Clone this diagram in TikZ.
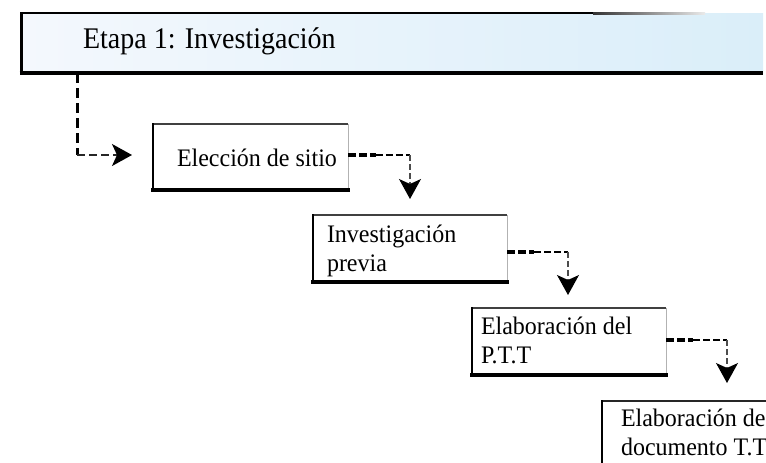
\documentclass[tikz,border=0pt]{standalone}
\usepackage{fontspec}
\setmainfont{Liberation Serif}
\usetikzlibrary{arrows.meta,calc}
\definecolor{hdleft}{HTML}{F4F8FD}
\definecolor{hdright}{HTML}{DAEEF9}
\newcommand{\tallt}[1]{\scalebox{1}[1.05]{#1}}
\tikzset{
  area/.style={draw=none,inner sep=0pt,outer sep=0pt,anchor=north west},
  lbl/.style={inner sep=0pt,outer sep=0pt,anchor=base west,font=\fontsize{24}{29}\selectfont},
  hlbl/.style={inner sep=0pt,outer sep=0pt,anchor=base west,font=\fontsize{28}{34}\selectfont},
  topedge/.style={draw=black!75,line width=1.3pt},
  rightedge/.style={draw=black!30,line width=0.9pt},
  leftedge/.style={draw=black,line width=2.6pt,line cap=rect},
  bottomedge/.style={draw=black,line width=3.4pt,line cap=rect},
  dashA/.style={draw=black,line width=3.4pt,dash pattern=on 8pt off 3pt},
  dashB/.style={draw=black,line width=2pt,dash pattern=on 7pt off 3pt},
  dashV/.style={draw=black!70,line width=1.1pt,dash pattern=on 6pt off 3pt},
  dashH/.style={draw=black,line width=3pt,dash pattern=on 10pt off 5pt},
  dashHh/.style={draw=black!85,line width=1.6pt,dash pattern=on 8pt off 4pt},
  tip/.style={-{Stealth[length=20pt,width=22pt,inset=5pt,color=black]}}
}
\begin{document}
\begin{tikzpicture}[x=1pt,y=-1pt]
\useasboundingbox (0,0) rectangle (766,463);
\clip (0,0) rectangle (766,463);
% header
\node[area,minimum width=742pt,minimum height=60pt] (h) at (21,13) {};
\shade[left color=hdleft,right color=hdright] (h.north west) rectangle (h.south east);
\draw[black,line width=2.4pt] (h.north west) -- (593,13);
\shade[left color=black!80,right color=black!8] (593,12) rectangle (705,14);
\draw[leftedge,line width=3pt] (h.north west) -- (h.south west);
\draw[bottomedge,line width=4pt,line cap=butt] ([xshift=-1.5pt]h.south west) -- (h.south east);
\node[hlbl] (ht) at (83,48.5) {\scalebox{1}[1.07]{Etapa 1: Investigación}};
% boxes
\node[area,minimum width=195pt,minimum height=66pt] (b1) at (153,124) {};
\node[area,minimum width=194pt,minimum height=67pt] (b2) at (313,215) {};
\node[area,minimum width=194pt,minimum height=67pt] (b3) at (472,308) {};
\node[area,minimum width=194pt,minimum height=67pt] (b4) at (602,401) {};
\foreach \n in {b1,b2,b3}{
  \draw[topedge] (\n.north west) -- (\n.north east);
  \draw[rightedge] (\n.north east) -- (\n.south east);
  \draw[leftedge] (\n.north west) -- (\n.south west);
  \draw[bottomedge] (\n.south west) -- (\n.south east);
}
\draw[topedge,line width=1.6pt,draw=black!85] (b4.north west) -- (b4.north east);
\draw[leftedge] (b4.north west) -- (b4.south west);
% texts
\node[lbl] (l1) at (177,166.5) {\tallt{Elección de sitio}};
\node[lbl] (l2a) at (327,242) {\tallt{Investigación}};
\node[lbl] (l2b) at (327,271) {\tallt{previa}};
\node[lbl] (l3a) at (481,334) {\tallt{Elaboración del}};
\node[lbl] (l3b) at (481,363) {\tallt{P.T.T}};
\node[lbl] (l4a) at (621,426) {\tallt{Elaboración del}};
\node[lbl] (l4b) at (621,455) {\tallt{documento T.T.T}};
% connector from header
\coordinate (hd) at ([xshift=56pt]h.south west);
\coordinate (hc) at (hd |- 0,155);
\coordinate (ha) at (132,155);
\draw[dashH] (hd) -- (hc);
\draw[dashHh,tip] (hc) -- (ha);
% connectors between boxes
\coordinate (s1) at (348,155);
\coordinate (c1) at (410,155);
\coordinate (e1) at (410,199);
\coordinate (s2) at (507,252);
\coordinate (c2) at (568,252);
\coordinate (e2) at (568,295);
\coordinate (s3) at (666,340);
\coordinate (c3) at (727,340);
\coordinate (e3) at (727,383);
\foreach \i in {1,2,3}{
  \draw[dashA] (s\i) -- ($(s\i)!0.45!(c\i)$);
  \draw[dashB] ($(s\i)!0.45!(c\i)$) -- (c\i);
  \draw[dashV,tip] (c\i) -- (e\i);
}
\end{tikzpicture}
\end{document}
